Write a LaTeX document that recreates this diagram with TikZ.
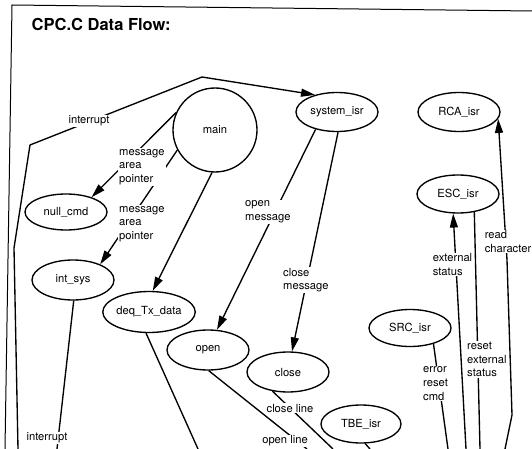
\documentclass[tikz,border=0pt]{standalone}
\usepackage{fontspec}
\setmainfont{TeX Gyre Heros}
\usetikzlibrary{shapes.geometric,arrows.meta}
\begin{document}
\begin{tikzpicture}[x=1pt,y=-1pt,
  txt/.style={font=\fontsize{11.2}{13.6}\selectfont},
  proc/.style={draw, ellipse, line width=1.35pt, minimum width=82pt,
    minimum height=39pt, inner sep=0pt, txt},
  tag/.style={fill=white, inner sep=1pt, align=left, txt},
  flow/.style={line width=1.35pt, line join=round},
  arr/.style={flow, -{Triangle[length=14pt,width=8pt]}},
]
\useasboundingbox (0,0) rectangle (532,449);

% page frame
\coordinate (tr) at (532,11);
\coordinate (tl) at (12,5);
\coordinate (bl) at (5,449);
\draw[line width=1pt] (tr) -- (tl) -- (bl);

\node[anchor=west, inner sep=0pt, font=\bfseries\fontsize{16.5}{20}\selectfont]
  (title) at (31.5,24) {CPC.C Data Flow:};

% processes
\node[draw, circle, line width=1.35pt, minimum size=84pt, inner sep=0pt, txt]
  (main) at (215,130) {main};
\node[proc] (sysisr) at (337,112) {system\_isr};
\node[proc] (rcaisr) at (459,112) {RCA\_isr};
\node[proc, minimum height=38pt] (escisr) at (458,194) {ESC\_isr};
\node[proc, minimum height=36pt] (nullcmd) at (66,212) {null\_cmd};
\node[proc, minimum height=40pt] (intsys) at (73,280) {int\_sys};
\node[proc, minimum height=41pt] (deq) at (149,312) {deq\_Tx\_data};
\node[proc, minimum height=40pt] (open) at (208,350) {open};
\node[proc, minimum height=40pt] (close) at (288,372) {close};
\node[proc, minimum height=37pt] (srcisr) at (410,328) {SRC\_isr};
\node[proc, minimum width=80pt, minimum height=38pt] (tbeisr) at (361,424) {TBE\_isr};

% loose ends leaving the sheet
\coordinate (i0) at (18,449);
\coordinate (i1) at (14,248);
\coordinate (i2) at (30,145);
\coordinate (i3) at (202,77);
\coordinate (r0) at (505,449);
\coordinate (r1) at (512,415);
\coordinate (r2) at (507,260);
\coordinate (e0) at (466,449);
\coordinate (e1) at (480,449);
\coordinate (s0) at (448,449);
\coordinate (c0) at (333,449);
\coordinate (o0) at (307,449);
\coordinate (d0) at (198,449);
\coordinate (n0) at (57,449);
\coordinate (t0) at (370,449);

% connectors
\draw[arr] (i0) -- (i1) -- (i2) -- (i3) -- (sysisr.142);
\draw[arr] (main.156) -- (nullcmd.30);
\draw[arr] (main.208) -- (intsys.30);
\draw[arr] (main.266) -- (deq.80);
\draw[arr] (sysisr.219) -- (open.66);
\draw[arr] (sysisr.-87) -- (close.79);
\draw[arr] (r0) -- (r1) -- (r2) -- (rcaisr.-10);
\draw[arr] (e0) -- (escisr.256);
\draw[flow] (escisr.-48) -- (e1);
\draw[flow] (srcisr.-34) -- (s0);
\draw[flow] (close.231) -- (c0);
\draw[flow] (open.-88) -- (o0);
\draw[flow] (deq.262) -- (d0);
\draw[flow] (intsys.-88) -- (n0);
\draw[flow] (tbeisr.-78) -- (t0);

% connector labels
\node[tag] (lint) at (89,121) {interrupt};
\node[tag, anchor=west] (lmsg1) at (118,167) {message\\area\\pointer};
\node[tag, anchor=west] (lmsg2) at (118,224) {message\\area\\pointer};
\node[tag, anchor=west] (lopen) at (244,212) {open\\message};
\node[tag, anchor=west] (lclose) at (282,280) {close\\message};
\node[tag] (lread) at (508,241.5) {read\\character};
\node[tag] (lext) at (452.5,264.5) {external\\status};
\node[tag, anchor=west] (lreset) at (466,359.5) {reset\\external\\status};
\node[tag, anchor=west] (lerr) at (422,383.5) {error\\reset\\cmd};
\node[tag] (lcl) at (290,408) {close line};
\node[tag] (lol) at (285,441) {open line};
\node[tag] (lint2) at (47,438) {interrupt};
\end{tikzpicture}
\end{document}
